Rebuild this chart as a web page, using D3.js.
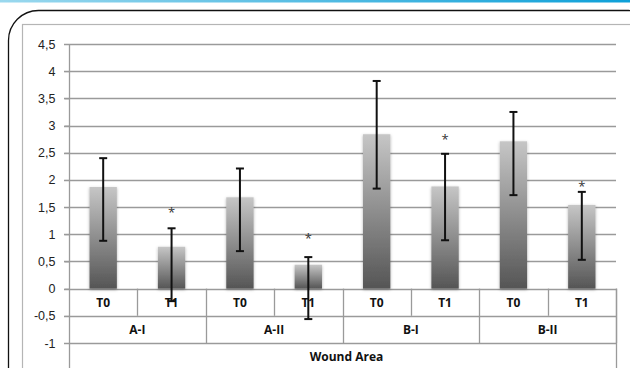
<!DOCTYPE html>
<html>
<head>
<meta charset="utf-8">
<script src="https://cdn.jsdelivr.net/npm/d3@7"></script>
<style>
  body { margin: 0; background: #fff; }
  svg { display: block; font-family: "Open Sans", "Liberation Sans", sans-serif; }
</style>
</head>
<body>
<div id="chart"></div>
<script>
// values
var groups = ["A-I", "A-II", "B-I", "B-II"];
var times = ["T0", "T1"];
var means   = [1.87, 0.77, 1.68, 0.44, 2.84, 1.88, 2.71, 1.54];
var errHigh = [2.40, 1.11, 2.21, 0.58, 3.82, 2.48, 3.25, 1.78];
var errLow  = [0.88, -0.23, 0.69, -0.56, 1.84, 0.89, 1.72, 0.53];
var stars   = [null, 1.43, null, 0.95, null, 2.77, null, 1.91];
var yTicks  = [-1, -0.5, 0, 0.5, 1, 1.5, 2, 2.5, 3, 3.5, 4, 4.5];
var axisTitle = "Wound Area";

var svgWidth = 630, svgHeight = 368;
var left = 69, right = 616;

var svg = d3.select("#chart").append("svg")
    .attr("width", svgWidth)
    .attr("height", svgHeight);

var defs = svg.append("defs");

var topLine = defs.append("linearGradient").attr("id", "topline");
topLine.append("stop").attr("offset", "0%").attr("stop-color", "#9ad8ee");
topLine.append("stop").attr("offset", "100%").attr("stop-color", "#0ea0d8");

var barGrad = defs.append("linearGradient").attr("id", "bargrad")
    .attr("x1", 0).attr("y1", 0).attr("x2", 0).attr("y2", 1);
barGrad.append("stop").attr("offset", "0%").attr("stop-color", "#c6c6c6");
barGrad.append("stop").attr("offset", "100%").attr("stop-color", "#555555");

var shadow = defs.append("filter").attr("id", "shadow")
    .attr("x", "-30%").attr("y", "-10%").attr("width", "160%").attr("height", "120%");
shadow.append("feDropShadow").attr("dx", 0).attr("dy", 1).attr("stdDeviation", 1.5)
    .attr("flood-color", "#000").attr("flood-opacity", 0.3);

// page decorations
svg.append("rect").attr("x", 0).attr("y", 0).attr("width", svgWidth).attr("height", 2.5)
    .attr("fill", "url(#topline)");
svg.append("rect").attr("x", 8.5).attr("y", 10.5).attr("width", 650).attr("height", 420)
    .attr("rx", 30).attr("ry", 30)
    .attr("fill", "none").attr("stroke", "#111").attr("stroke-width", 1.3);
svg.append("rect").attr("x", 22.5).attr("y", 24.5).attr("width", 640).attr("height", 400)
    .attr("fill", "none").attr("stroke", "#b5b5b5").attr("stroke-width", 1.2);

// scales
var cats = [];
groups.forEach(function(g) {
    times.forEach(function(t) { cats.push(g + "|" + t); });
});

var x = d3.scaleBand().domain(cats).range([left, right]).paddingInner(0.6).paddingOuter(0.3);
var xCat = d3.scaleBand().domain(cats).range([left, right]);
var xGroup = d3.scaleBand().domain(groups).range([left, right]);

var y = d3.scaleLinear().domain([-1, 4.5]).range([343, 44]);

var fmt = function(d) { return String(d).replace(".", ","); };

// gridlines
svg.append("g").selectAll("line").data(yTicks).enter().append("line")
    .attr("x1", left - 5).attr("x2", right)
    .attr("y1", function(d) { return Math.round(y(d)) + 0.5; })
    .attr("y2", function(d) { return Math.round(y(d)) + 0.5; })
    .attr("stroke", "#9a9a9a").attr("stroke-width", 1.3);

// y axis
var yAxis = svg.append("g")
    .attr("transform", "translate(" + (left + 0.5) + ",0)")
    .call(d3.axisLeft(y).tickValues(yTicks).tickFormat(fmt).tickSize(5).tickPadding(9));
yAxis.select(".domain").remove();
yAxis.selectAll(".tick line").attr("stroke", "#9a9a9a");
yAxis.selectAll("text").attr("font-size", "12.5px").attr("fill", "#222");
svg.append("line")
    .attr("x1", left + 0.5).attr("x2", left + 0.5)
    .attr("y1", y(4.5)).attr("y2", svgHeight)
    .attr("stroke", "#9a9a9a").attr("stroke-width", 1.3);

// category table below the zero line
var table = svg.append("g");
var y0 = y(0), y1 = y(-0.5), y2 = y(-1);
table.selectAll(".catsep").data(cats).enter().append("line")
    .attr("x1", function(d) { return Math.round(xCat(d) + xCat.bandwidth()) + 0.5; })
    .attr("x2", function(d) { return Math.round(xCat(d) + xCat.bandwidth()) + 0.5; })
    .attr("y1", y0)
    .attr("y2", function(d, i) { return i % 2 === 1 ? y2 : y1; })
    .attr("stroke", "#9a9a9a").attr("stroke-width", 1.3);
table.append("line")
    .attr("x1", right + 0.5).attr("x2", right + 0.5)
    .attr("y1", y0).attr("y2", svgHeight)
    .attr("stroke", "#9a9a9a").attr("stroke-width", 1.3);

table.selectAll(".catlabel").data(cats).enter().append("text")
    .attr("x", function(d) { return xCat(d) + xCat.bandwidth() / 2; })
    .attr("y", (y0 + y1) / 2 + 5)
    .attr("text-anchor", "middle")
    .attr("font-size", "12px").attr("font-weight", "bold").attr("fill", "#111")
    .text(function(d) { return d.split("|")[1]; });

table.selectAll(".grouplabel").data(groups).enter().append("text")
    .attr("x", function(d) { return xGroup(d) + xGroup.bandwidth() / 2; })
    .attr("y", (y1 + y2) / 2 + 5)
    .attr("text-anchor", "middle")
    .attr("font-size", "12px").attr("font-weight", "bold").attr("fill", "#111")
    .text(function(d) { return d; });

table.append("text")
    .attr("x", (left + right) / 2 + 4)
    .attr("y", y2 + 18)
    .attr("text-anchor", "middle")
    .attr("font-size", "12px").attr("font-weight", "bold").attr("fill", "#111")
    .text(axisTitle);

// bars
svg.append("g").selectAll("rect").data(means).enter().append("rect")
    .attr("x", function(d, i) { return x(cats[i]); })
    .attr("y", function(d) { return y(d); })
    .attr("width", x.bandwidth())
    .attr("height", function(d) { return y(0) - y(d); })
    .attr("fill", "url(#bargrad)")
    .attr("filter", "url(#shadow)");

// error bars
var err = svg.append("g").attr("stroke", "#111").attr("stroke-width", 2);
means.forEach(function(m, i) {
    var cx = x(cats[i]) + x.bandwidth() / 2;
    err.append("line").attr("x1", cx).attr("x2", cx)
        .attr("y1", y(errHigh[i])).attr("y2", y(errLow[i]));
    err.append("line").attr("x1", cx - 4).attr("x2", cx + 4)
        .attr("y1", y(errHigh[i])).attr("y2", y(errHigh[i]));
    err.append("line").attr("x1", cx - 4).attr("x2", cx + 4)
        .attr("y1", y(errLow[i])).attr("y2", y(errLow[i]));
});

// significance stars
svg.append("g").selectAll("text").data(stars).enter()
    .filter(function(d) { return d !== null; })
    .append("text")
    .attr("x", function(d) { return x(cats[stars.indexOf(d)]) + x.bandwidth() / 2; })
    .attr("y", function(d) { return y(d) + 6; })
    .attr("text-anchor", "middle")
    .attr("font-size", "13px").attr("fill", "#333")
    .text("*");
</script>
</body>
</html>
